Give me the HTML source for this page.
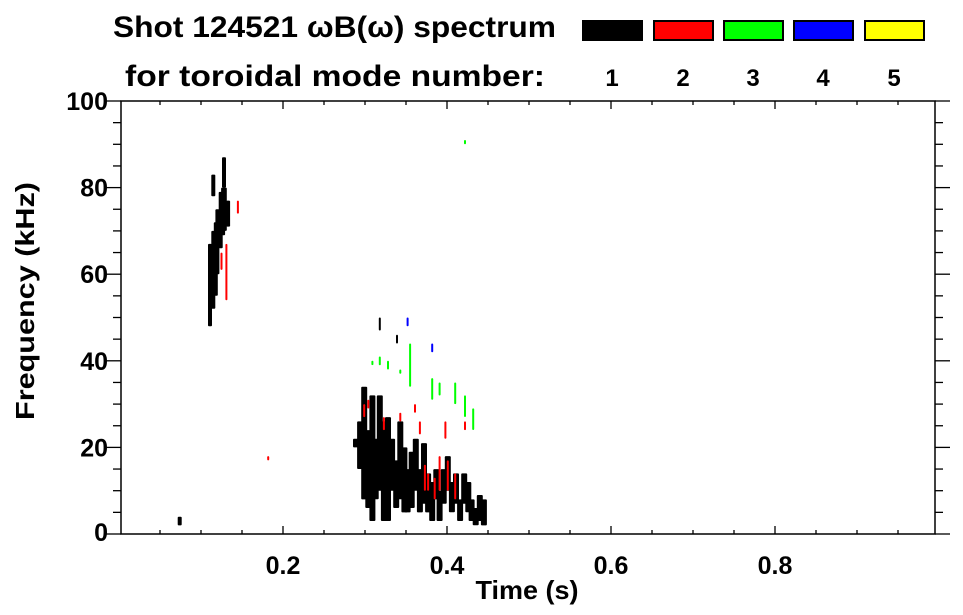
<!DOCTYPE html>
<html><head><meta charset="utf-8"><style>
html,body{margin:0;padding:0;background:#fff}
svg{display:block}
text{font-family:"Liberation Sans",Arial,sans-serif;font-weight:bold;fill:#000}
</style></head><body>
<svg id="chart" width="963" height="615" viewBox="0 0 963 615">
<text x="113" y="37" font-size="30" textLength="443" lengthAdjust="spacingAndGlyphs">Shot 124521 ωB(ω) spectrum</text>
<text x="125" y="86" font-size="30" textLength="420" lengthAdjust="spacingAndGlyphs">for toroidal mode number:</text>
<g id="legend"></g>
<g id="marks"></g>
<g id="axes"></g>
<text transform="translate(34,301) rotate(-90)" text-anchor="middle" font-size="26" textLength="238" lengthAdjust="spacingAndGlyphs">Frequency (kHz)</text>
<text x="527" y="599" text-anchor="middle" font-size="26" textLength="103" lengthAdjust="spacingAndGlyphs">Time (s)</text>
</svg>
<script>
const modes=[1,2,3,4,5];
const modeColors=["#000000","#ff0000","#00ff00","#0000ff","#ffff00"];
const xTickLabels=["0.2","0.4","0.6","0.8"];
const xTickValues=[0.2,0.4,0.6,0.8];
const yTickLabels=["0","20","40","60","80","100"];
const yTickValues=[0,20,40,60,80,100];
// streaks: time (s), freq low (kHz), freq high (kHz), mode
const streakTime=[0.074,0.111,0.115,0.118,0.120,0.124,0.127,0.129,0.133,0.128,0.115,0.125,0.131,0.145,0.182,
0.289,0.294,0.299,0.304,0.309,0.313,0.318,0.323,0.328,0.333,0.338,0.343,0.348,0.352,0.357,0.362,0.367,0.372,0.377,0.382,0.387,0.391,0.396,0.401,0.406,0.411,0.416,0.421,0.426,0.430,0.435,0.440,0.445,
0.343,0.361,0.367,0.373,0.385,0.391,0.398,0.401,0.410,0.422,0.377,0.299,0.304,0.323,
0.309,0.318,0.328,0.343,0.355,0.382,0.391,0.410,0.422,0.432,0.422,
0.352,0.382,0.339,0.318];
const streakLow=[2,48,52,55,60,66,69,70,71,80,78,61,54,74,17,
20,15,8,6,3,8,10,3,3,10,6,8,5,5,6,10,5,7,5,3,8,3,7,10,5,7,3,7,5,3,2,3,2,
26,28,23,10,8,10,22,10,8,24,10,27,29,24,
39,39,38,37,34,31,32,30,27,24,90,
48,42,44,47];
const streakHigh=[4,67,70,72,75,79,80,80,77,87,83,65,67,77,18,
22,26,34,24,32,22,32,26,27,22,17,26,20,15,19,22,15,21,14,12,15,10,15,18,12,14,8,14,12,8,6,9,8,
28,30,26,16,13,18,26,17,14,26,14,30,31,27,
40,41,40,38,44,36,35,35,32,29,91,
50,44,46,50];
const streakMode=[1,1,1,1,1,1,1,1,1,1,1,2,2,2,2,
1,1,1,1,1,1,1,1,1,1,1,1,1,1,1,1,1,1,1,1,1,1,1,1,1,1,1,1,1,1,1,1,1,
2,2,2,2,2,2,2,2,2,2,2,2,2,2,
3,3,3,3,3,3,3,3,3,3,3,
4,4,1,1];

const L=121,R=935,T=101,B=534;
const xMin=(L-119)/820, xMax=(R-119)/820;
const X=t=>L+(t-xMin)/(xMax-xMin)*(R-L);
const Y=f=>B-(f-0)/(100-0)*(B-T);
const NS="http://www.w3.org/2000/svg";
function mk(tag,attrs,parent){const e=document.createElementNS(NS,tag);for(const k in attrs)e.setAttribute(k,attrs[k]);parent.appendChild(e);return e;}

const marks=document.getElementById('marks');
for(let i=0;i<streakTime.length;i++){
  const m=streakMode[i];
  const big=(m===1&&i>=15&&i<48);
  const w=big?6:(m===1&&i<11?4:2);
  const x=X(streakTime[i])-w/2, y1=Y(streakHigh[i]), y2=Y(streakLow[i]);
  const r=mk('rect',{x:x.toFixed(1),y:y1.toFixed(1),width:w,height:Math.max(1,y2-y1).toFixed(1),rx:1,fill:modeColors[m-1]},marks);
  
  
}

const axes=document.getElementById('axes');
const frame=mk('rect',{x:L,y:T,width:R-L,height:B-T,fill:'none',stroke:'#000','stroke-width':1.5},axes);


for(let f=0;f<=100;f+=5){
  const y=Y(f), major=f%20===0, len=major?15:8;
  mk('line',{x1:L-len,y1:y,x2:L,y2:y,stroke:'#000','stroke-width':1.3},axes);
  mk('line',{x1:R,y1:y,x2:R+len,y2:y,stroke:'#000','stroke-width':1.3},axes);
}
yTickValues.forEach((v,i)=>{
  const t=mk('text',{x:108,y:Y(v)+9-(v===0?2:0),'text-anchor':'end','font-size':25},axes);
  t.textContent=yTickLabels[i];
  
  
});
for(let k=1;k<20;k++){
  const tv=k*0.05; if(tv<xMin||tv>xMax)continue;
  const x=X(tv), major=k%4===0, len=major?8:4;
  mk('line',{x1:x,y1:B,x2:x,y2:B-len,stroke:'#000','stroke-width':1.3},axes);
  mk('line',{x1:x,y1:T,x2:x,y2:T+len,stroke:'#000','stroke-width':1.3},axes);
}
xTickValues.forEach((v,i)=>{
  const t=mk('text',{x:X(v),y:574,'text-anchor':'middle','font-size':25},axes);
  t.textContent=xTickLabels[i];
  
  
});

const legend=document.getElementById('legend');
const boxX=[582,653,723,793,864];
modes.forEach((m,i)=>{
  const r=mk('rect',{x:boxX[i]+1,y:21,width:59,height:19,fill:modeColors[i],stroke:'#000','stroke-width':2},legend);
  
  
  const t=mk('text',{x:boxX[i]+30,y:86,'text-anchor':'middle','font-size':24},legend);
  t.textContent=String(m);
  
  
});
</script>
</body></html>
